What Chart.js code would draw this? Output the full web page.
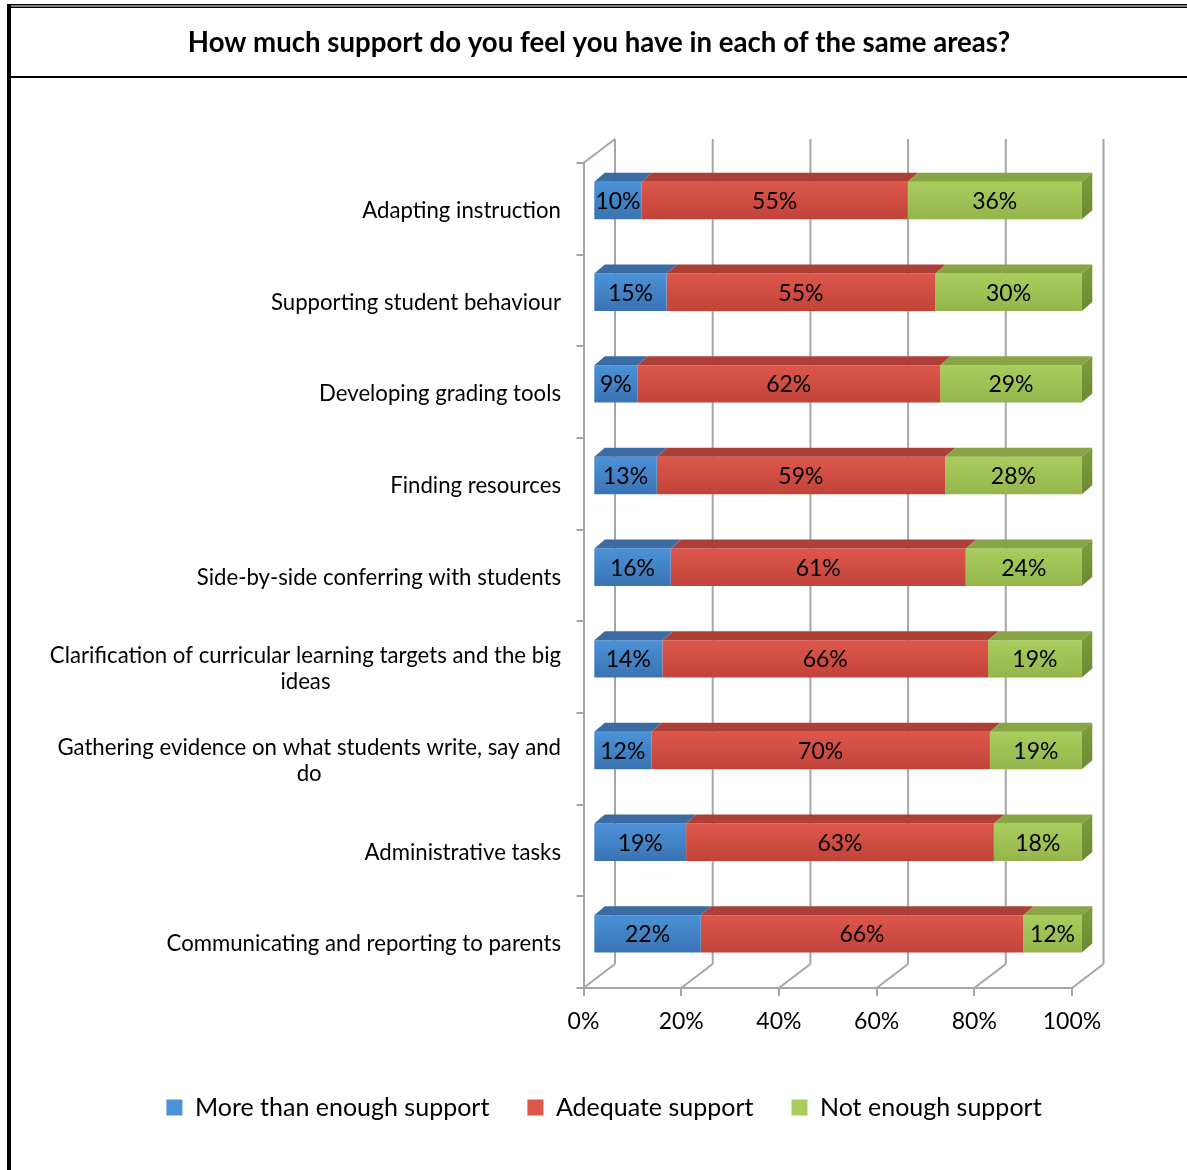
<!DOCTYPE html>
<html>
<head>
<meta charset="utf-8">
<script src="https://cdn.jsdelivr.net/npm/chart.js@4.4.1/dist/chart.umd.min.js"></script>
<style>
  html, body { margin: 0; padding: 0; background: #fff; }
</style>
</head>
<body>
<canvas id="supportchart" width="1187" height="1170"></canvas>
<script>
// survey areas, one array entry per wrapped line
const areas = [
  ['Adapting instruction'],
  ['Supporting student behaviour'],
  ['Developing grading tools'],
  ['Finding resources'],
  ['Side-by-side conferring with students'],
  ['Clarification of curricular learning targets and the big', 'ideas'],
  ['Gathering evidence on what students write, say and', 'do'],
  ['Administrative tasks'],
  ['Communicating and reporting to parents']
];
const moreThanEnough = [10, 15, 9, 13, 16, 14, 12, 19, 22];
const adequate = [55, 55, 62, 59, 61, 66, 70, 63, 66];
const notEnough = [36, 30, 29, 28, 24, 19, 19, 18, 12];
const seriesNames = ['More than enough support', 'Adequate support', 'Not enough support'];
const pctTicks = ['0%', '20%', '40%', '60%', '80%', '100%'];

const FONT = 'Lato, "Open Sans", sans-serif';
const GRID = '#a6a6a6';

// 3d look: back wall offset, bar offset from the front plane, bar depth
const WALL = { x: 31.5, y: -24 };
const SHIFT = { x: 9.8, y: -8.3 };
const DEPTH = { x: 10.5, y: -9 };

// each row is drawn as a 100% stack
const rowTotals = moreThanEnough.map((v, i) => v + adequate[i] + notEnough[i]);
const share = arr => arr.map((v, i) => v / rowTotals[i] * 100);

const palette = [
  { top: '#4b92d8', bottom: '#3a73b3', lid: '#3a6ca3', side: '#2f5a8a' },
  { top: '#de574b', bottom: '#c1433a', lid: '#ac4038', side: '#8e342d' },
  { top: '#abcd5e', bottom: '#93b54b', lid: '#88a444', side: '#6c8832' }
];

function faceFill(idx) {
  return ctx => {
    const p = palette[idx];
    if (ctx.type !== 'data') return p.top;
    const y = ctx.chart.scales.y;
    if (!y || !y.height) return p.top;
    const c = y.getPixelForValue(ctx.dataIndex);
    const h = (y.height / areas.length) * 0.408 / 2;
    const g = ctx.chart.ctx.createLinearGradient(0, c - h, 0, c + h);
    g.addColorStop(0, p.top);
    g.addColorStop(1, p.bottom);
    return g;
  };
}

const rawSeries = [moreThanEnough, adequate, notEnough];

const frame3d = {
  id: 'frame3d',
  beforeDraw(chart) {
    const c = chart.ctx;
    c.save();
    c.fillStyle = '#000';
    c.fillRect(7, 4, 1180, 1.5);
    c.fillRect(10, 6.5, 1177, 1.5);
    c.fillRect(7, 4, 4, 1166);
    c.fillRect(11, 76, 1176, 2);
    c.font = 'bold 27.6px ' + FONT;
    c.textAlign = 'center';
    c.textBaseline = 'middle';
    c.fillText('How much support do you feel you have in each of the same areas?', 599, 43);
    c.restore();
  },
  beforeDatasetsDraw(chart) {
    const c = chart.ctx;
    const x = chart.scales.x, y = chart.scales.y;
    c.save();
    c.strokeStyle = GRID;
    c.lineWidth = 2;
    c.beginPath();
    // back wall grid lines and floor diagonals
    for (let v = 0; v <= 100; v += 20) {
      const px = x.getPixelForValue(v);
      c.moveTo(px + WALL.x, y.top + WALL.y);
      c.lineTo(px + WALL.x, y.bottom + WALL.y);
      c.moveTo(px, y.bottom);
      c.lineTo(px + WALL.x, y.bottom + WALL.y);
    }
    // top edge of the side wall
    c.moveTo(x.left, y.top);
    c.lineTo(x.left + WALL.x, y.top + WALL.y);
    c.stroke();
    c.restore();
    c.save();
    c.translate(SHIFT.x, SHIFT.y);
  },
  afterDatasetsDraw(chart) {
    const c = chart.ctx;
    const last = chart.data.datasets.length - 1;
    chart.data.datasets.forEach((ds, di) => {
      const p = palette[di];
      chart.getDatasetMeta(di).data.forEach((bar, i) => {
        const x1 = Math.min(bar.base, bar.x), x2 = Math.max(bar.base, bar.x);
        const t = bar.y - bar.height / 2, b = bar.y + bar.height / 2;
        c.fillStyle = p.lid;
        c.beginPath();
        c.moveTo(x1, t);
        c.lineTo(x2, t);
        c.lineTo(x2 + DEPTH.x, t + DEPTH.y);
        c.lineTo(x1 + DEPTH.x, t + DEPTH.y);
        c.closePath();
        c.fill();
        if (di === last) {
          const g = c.createLinearGradient(0, t, 0, b);
          g.addColorStop(0, '#7a9a3a');
          g.addColorStop(1, p.side);
          c.fillStyle = g;
          c.beginPath();
          c.moveTo(x2, t);
          c.lineTo(x2 + DEPTH.x, t + DEPTH.y);
          c.lineTo(x2 + DEPTH.x, b + DEPTH.y);
          c.lineTo(x2, b);
          c.closePath();
          c.fill();
        }
        c.fillStyle = '#000';
        c.font = '23px ' + FONT;
        c.textAlign = 'center';
        c.textBaseline = 'middle';
        c.fillText(rawSeries[di][i] + '%', (x1 + x2) / 2, bar.y + 1);
      });
    });
    c.restore();
  },
  afterDraw(chart) {
    // category names: right edge at the axis, wrapped lines centred on each other
    const c = chart.ctx;
    const y = chart.scales.y;
    const right = y.right - 7 - 15.5;
    c.save();
    c.fillStyle = '#000';
    c.font = '22.2px ' + FONT;
    c.textAlign = 'center';
    c.textBaseline = 'middle';
    areas.forEach((lines, i) => {
      const w = Math.max(...lines.map(s => c.measureText(s).width));
      const cx = right - w / 2;
      const cy = y.getPixelForValue(i) + 2 - (lines.length - 1) * 13;
      lines.forEach((s, k) => c.fillText(s, cx, cy + k * 26));
    });
    c.restore();
  }
};

new Chart(document.getElementById('supportchart'), {
  type: 'bar',
  data: {
    labels: areas,
    datasets: [
      { label: seriesNames[0], data: share(moreThanEnough), backgroundColor: faceFill(0) },
      { label: seriesNames[1], data: share(adequate), backgroundColor: faceFill(1) },
      { label: seriesNames[2], data: share(notEnough), backgroundColor: faceFill(2) }
    ]
  },
  options: {
    indexAxis: 'y',
    responsive: false,
    devicePixelRatio: 1,
    animation: false,
    layout: { padding: { left: 21, right: 0, top: 163, bottom: 40 } },
    datasets: {
      bar: { barPercentage: 0.408, categoryPercentage: 1, borderWidth: 0, clip: false }
    },
    scales: {
      x: {
        stacked: true,
        min: 0,
        max: 100,
        afterFit: s => { s.height = 69; },
        ticks: {
          stepSize: 20,
          callback: v => pctTicks[v / 20],
          color: '#000',
          font: { family: FONT, size: 23 },
          padding: 12,
          maxRotation: 0
        },
        grid: { drawOnChartArea: false, drawTicks: true, tickLength: 8, color: GRID, lineWidth: 2 },
        border: { color: GRID, width: 2 }
      },
      y: {
        stacked: true,
        offset: true,
        afterFit: s => { s.width = 562.5; },
        ticks: { display: false },
        grid: { drawOnChartArea: false, drawTicks: true, tickLength: 7, offset: true, color: GRID, lineWidth: 2 },
        border: { color: GRID, width: 2 }
      },
      // empty strip on the right that holds the back wall and the 100% label
      yRight: {
        type: 'category',
        axis: 'y',
        position: 'right',
        afterFit: s => { s.width = 115; },
        ticks: { display: false },
        grid: { display: false },
        border: { display: false }
      }
    },
    plugins: {
      tooltip: { enabled: false },
      legend: {
        position: 'bottom',
        labels: {
          color: '#000',
          font: { family: FONT, size: 25 },
          boxWidth: 16,
          boxHeight: 16,
          padding: 38,
          generateLabels: chart => seriesNames.map((name, i) => ({
            text: name,
            fillStyle: palette[i].top,
            strokeStyle: palette[i].top,
            lineWidth: 0,
            datasetIndex: i
          }))
        }
      }
    }
  },
  plugins: [frame3d]
});
</script>
</body>
</html>
